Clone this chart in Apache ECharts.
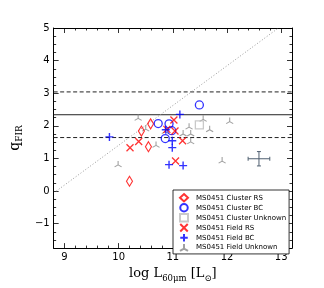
<!DOCTYPE html>
<html><head><meta charset="utf-8">
<script src="https://cdn.jsdelivr.net/npm/echarts@6/dist/echarts.min.js"></script>
<style>html,body{margin:0;padding:0;background:#fff}#c{width:324px;height:288px}</style>
</head><body><div id="c"></div>
<script>
const xMajor = [9, 10, 11, 12, 13];
const yMajor = [-1, 0, 1, 2, 3, 4, 5];
const clusterRS = [[10.20,0.30],[10.42,1.84],[10.59,2.06],[10.55,1.36]];
const clusterBC = [[10.73,2.07],[10.93,2.06],[10.86,1.61],[10.98,1.85],[11.49,2.64]];
const clusterUnknown = [[11.49,2.03]];
const fieldRS = [[10.21,1.33],[10.37,1.52],[10.89,1.89],[11.02,2.18],[11.04,1.84],[11.18,1.54],[11.05,0.92]];
const fieldBC = [[9.83,1.66],[11.13,2.35],[10.99,1.54],[10.99,1.33],[10.93,0.81],[11.19,0.78],[10.87,1.88]];
const fieldUnknown = [[10.36,2.26],[10.50,1.93],[10.69,1.43],[9.99,0.83],[10.86,1.85],[11.19,1.78],[11.30,1.99],[11.33,1.78],[11.33,1.54],[11.56,2.23],[11.68,1.91],[12.05,2.16],[11.91,0.95]];
const qMean = 2.34, qLow = 1.64, qHigh = 3.04;
const diagLine = [[8.85,0],[12.95,5]];
const errBar = {x: 12.59, y: 0.99, dx: 0.2, dy: 0.22};
const names = ['MS0451 Cluster RS','MS0451 Cluster BC','MS0451 Cluster Unknown','MS0451 Field RS','MS0451 Field BC','MS0451 Field Unknown'];

const X_MIN = 8.8, X_MAX = 13.2, Y_MIN = -1.75, Y_MAX = 5;
function minors(lo, hi, step, majors){
  const out=[]; for(let v=Math.ceil(lo/step-1e-9)*step; v<=hi+1e-9; v+=step){const r=Math.round(v*100)/100; if(!majors.some(m=>Math.abs(m-r)<1e-6)) out.push(r);} return out;
}
const xMinor = minors(X_MIN, X_MAX, 0.2, xMajor);
const yMinor = minors(Y_MIN, Y_MAX, 0.25, yMajor);

const pX = 'path://M0,0L10,10M10,0L0,10';
const pPlus = 'path://M5,0L5,10M0,5L10,5';
const pTri = 'path://M5,5L5,0M5,5L0.67,7.5M5,5L9.33,7.5';

function xAx(pos, vals, len, labels){
  return {type:'value', position:pos, min:X_MIN, max:X_MAX,
    axisLine:{show:labels, onZero:false, lineStyle:{color:'#000', width:1}},
    splitLine:{show:false},
    axisTick:{show:true, inside:true, length:len, customValues:vals, lineStyle:{color:'#000', width:0.8}},
    axisLabel:{show:labels && pos==='bottom', customValues:vals, color:'#000', fontSize:10, fontFamily:'DejaVu Sans', margin:4},
  };
}
function yAx(pos, vals, len, labels){
  return {type:'value', position:pos, min:Y_MIN, max:Y_MAX,
    axisLine:{show:labels, onZero:false, lineStyle:{color:'#000', width:1}},
    splitLine:{show:false},
    axisTick:{show:true, inside:true, length:len, customValues:vals, lineStyle:{color:'#000', width:0.8}},
    axisLabel:{show:labels && pos==='left', customValues:vals, color:'#000', fontSize:10, fontFamily:'DejaVu Sans', margin:4,
      formatter:v=>String(v).replace('-','\u2212')},
  };
}
const xAxes = [xAx('bottom', xMajor, 5, true), xAx('bottom', xMinor, 2.5, false), xAx('top', xMajor, 5, true), xAx('top', xMinor, 2.5, false)];
xAxes[0].name = '{a|log L}{s|60\u03bcm}{a| [L}{s|\u2299}{a|]}';
xAxes[0].nameLocation = 'middle';
xAxes[0].nameGap = 11;
xAxes[0].nameTextStyle = {verticalAlign:'top', rich:{
  a:{fontFamily:'DejaVu Serif', fontSize:13, color:'#000', verticalAlign:'bottom'},
  s:{fontFamily:'DejaVu Serif', fontSize:8.5, color:'#000', verticalAlign:'bottom', padding:[0,0,-3,0]}}};
const yAxes = [yAx('left', yMajor, 5, true), yAx('left', yMinor, 2.5, false), yAx('right', yMajor, 5, true), yAx('right', yMinor, 2.5, false)];
yAxes[0].name = '{a|q}{s|FIR}';
yAxes[0].nameLocation = 'middle';
yAxes[0].nameGap = 18;
yAxes[0].nameTextStyle = {rich:{
  a:{fontFamily:'DejaVu Serif', fontSize:14, color:'#000', verticalAlign:'bottom'},
  s:{fontFamily:'DejaVu Serif', fontSize:9, color:'#000', verticalAlign:'bottom', padding:[0,0,-2,0]}}};

function sc(name, data, symbol, size, color, bw){
  return {name, type:'scatter', xAxisIndex:0, yAxisIndex:0, data, symbol, symbolSize:size, symbolKeepAspect:false,
    itemStyle:{color:'transparent', borderColor:color, borderWidth:bw}, emphasis:{disabled:true}, z:5};
}
function ln(data, type, color, w){
  return {type:'line', xAxisIndex:0, yAxisIndex:0, data, symbol:'none', silent:true,
    lineStyle:{color, width:w, type}, z:2};
}

const option = {
  animation:false,
  grid:{left:32, right:32, top:28, bottom:29},
  xAxis:xAxes, yAxis:yAxes,
  legend:{
    data:names, orient:'vertical', left:173, top:190, selectedMode:false, z:10,
    backgroundColor:'#fff',
    borderColor:'#000', borderWidth:0.8, padding:[3,3,2,6], itemWidth:8, itemHeight:7.5, itemGap:0.5,
    textStyle:{fontSize:7, fontFamily:'DejaVu Sans', color:'#000', padding:[0,0,0,3]},
  },
  series:[
    ln([[X_MIN,qMean],[X_MAX,qMean]], 'solid', '#222', 1),
    ln([[X_MIN,qLow],[X_MAX,qLow]], [4,2.5], '#222', 1),
    ln([[X_MIN,qHigh],[X_MAX,qHigh]], [4,2.5], '#222', 1),
    ln(diagLine, [1,2], '#999', 1),
    sc(names[5], fieldUnknown, pTri, [7,6], '#888', 1),
    sc(names[0], clusterRS, 'diamond', [6,10], '#f00', 1.2),
    sc(names[1], clusterBC, 'circle', 8, '#00f', 1.3),
    sc(names[2], clusterUnknown, 'rect', 8, '#bbb', 1.3),
    sc(names[3], fieldRS, pX, 7, '#f00', 1.3),
    sc(names[4], fieldBC, pPlus, 8, '#00f', 1.4),
    {type:'custom', xAxisIndex:0, yAxisIndex:0, silent:true, z:4,
      data:[[errBar.x, errBar.y, errBar.dx, errBar.dy]],
      renderItem:function(params, api){
        const x=api.value(0), y=api.value(1), dx=api.value(2), dy=api.value(3);
        const l=api.coord([x-dx,y]), r=api.coord([x+dx,y]), t=api.coord([x,y+dy]), b=api.coord([x,y-dy]);
        const st={stroke:'#4f5f70', lineWidth:1};
        const cap=2;
        return {type:'group', children:[
          {type:'line', shape:{x1:l[0],y1:l[1],x2:r[0],y2:r[1]}, style:st},
          {type:'line', shape:{x1:t[0],y1:t[1],x2:b[0],y2:b[1]}, style:st},
          {type:'line', shape:{x1:l[0],y1:l[1]-cap,x2:l[0],y2:l[1]+cap}, style:st},
          {type:'line', shape:{x1:r[0],y1:r[1]-cap,x2:r[0],y2:r[1]+cap}, style:st},
          {type:'line', shape:{x1:t[0]-cap,y1:t[1],x2:t[0]+cap,y2:t[1]}, style:st},
          {type:'line', shape:{x1:b[0]-cap,y1:b[1],x2:b[0]+cap,y2:b[1]}, style:st},
        ]};
      }}
  ]
};
echarts.init(document.getElementById('c'), null, {renderer:'canvas'}).setOption(option);
</script></body></html>
